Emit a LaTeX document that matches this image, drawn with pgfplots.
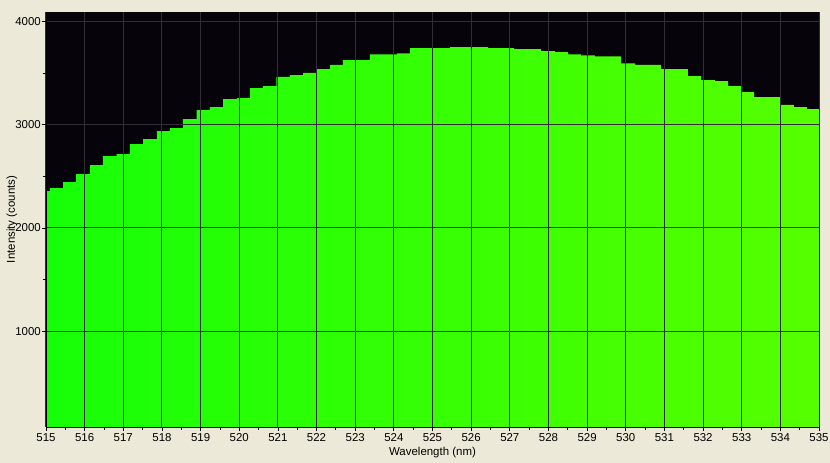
\documentclass[border=0pt]{standalone}
\usepackage{pgfplots}
\pgfplotsset{compat=1.18}
\usepackage{fontspec}
\setmainfont{Liberation Sans}
\definecolor{bgxp}{RGB}{236,233,216}
\definecolor{plotbg}{RGB}{6,4,10}
\definecolor{gridc}{RGB}{50,46,54}
\definecolor{gl}{RGB}{22,255,8}
\definecolor{gr}{RGB}{86,255,0}
\begin{document}
\begin{tikzpicture}[x=1bp,y=1bp]
\fill[bgxp] (-46,-36) rectangle (784,427);
\path[use as bounding box] (-46,-36) rectangle (784,427);
\begin{axis}[
  at={(0,0)}, anchor=south west,
  scale only axis, width=773bp, height=415bp,
  xmin=515, xmax=535, ymin=74, ymax=4090,
  axis background/.style={fill=plotbg},
  axis on top,
  axis x line=bottom, axis y line=left,
  axis line style={black,-},
  tick align=outside,
  xtick={515,516,...,535},
  ytick={1000,2000,3000,4000},
  minor xtick={515.5,516.5,...,534.5},
  minor ytick={1500,2500,3500},
  major tick length=4bp, minor tick length=3bp,
  every tick/.style={black, line width=0.8bp},
  grid=major,
  major grid style={gridc, line width=1bp},
  minor grid style={draw=none},
  tick label style={font=\fontsize{11.5}{13}\selectfont, black},
  yticklabel style={inner sep=1bp},
  xticklabel style={inner sep=1bp, yshift=-1bp},
  xticklabel={\pgfmathprintnumber[fixed,precision=0,1000 sep={}]{\tick}},
  yticklabel={\pgfmathprintnumber[fixed,precision=0,1000 sep={}]{\tick}},
  /pgf/number format/assume math mode=true,
  xlabel={Wavelength (nm)},
  ylabel={Intensity (counts)},
  xlabel style={at={(axis description cs:0.5,-0.0627)}, anchor=center, font=\fontsize{11.5}{13}\selectfont},
  ylabel style={at={(axis description cs:-0.044,0.5)}, anchor=center, font=\fontsize{11.5}{13}\selectfont},
]
\addplot[draw=none, left color=gl, right color=gr, const plot mark left] coordinates {
(515.00,2357) (515.10,2386) (515.44,2444) (515.78,2522) (516.14,2609)
(516.47,2696) (516.83,2715) (517.17,2812) (517.51,2860) (517.87,2938)
(518.21,2967) (518.54,3054) (518.90,3141) (519.24,3170) (519.58,3247)
(519.94,3257) (520.28,3354) (520.61,3373) (520.96,3461) (521.31,3480)
(521.65,3500) (522.01,3538) (522.35,3577) (522.68,3625) (523.02,3625)
(523.38,3680) (523.72,3680) (524.08,3690) (524.42,3741) (524.75,3741)
(525.09,3741) (525.45,3751) (525.79,3751) (526.12,3751) (526.44,3741)
(526.77,3741) (527.11,3731) (527.47,3731) (527.81,3712) (528.17,3702)
(528.51,3680) (528.84,3670) (529.20,3661) (529.54,3661) (529.88,3593)
(530.24,3577) (530.58,3577) (530.91,3538) (531.25,3538) (531.61,3470)
(531.95,3431) (532.31,3422) (532.65,3373) (533.01,3315) (533.32,3267)
(533.66,3267) (533.99,3190) (534.35,3170) (534.69,3150) (535.00,3150)
} \closedcycle;
\end{axis}
\end{tikzpicture}
\end{document}
